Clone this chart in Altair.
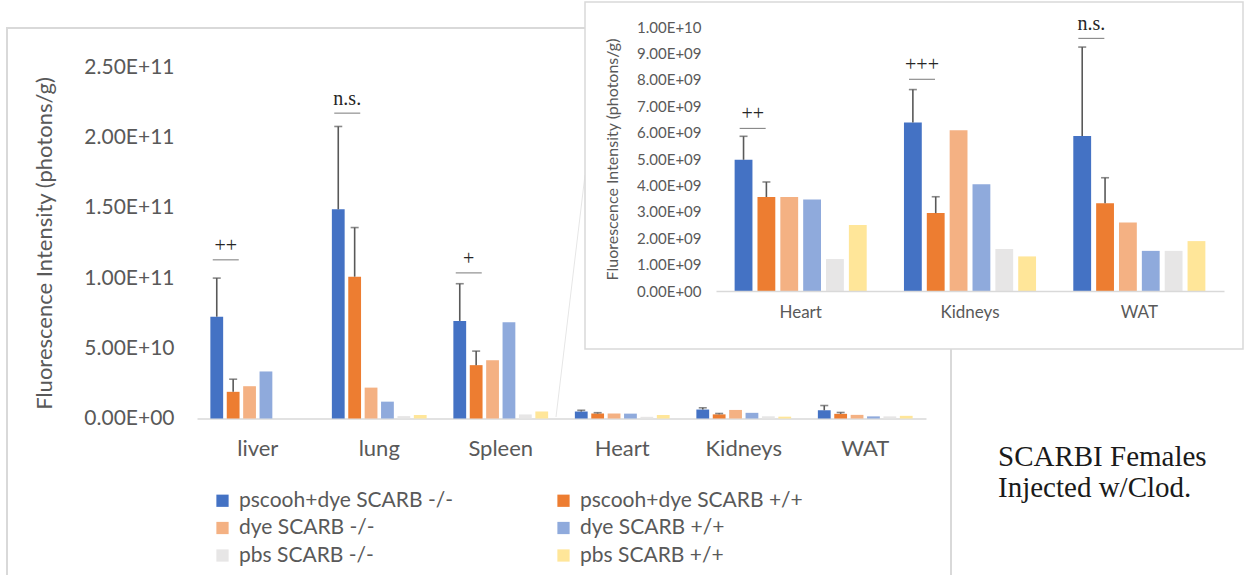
import altair as alt
import pandas as pd

# Organs on the main chart and the zoomed-in inset
organs = ["liver", "lung", "Spleen", "Heart", "Kidneys", "WAT"]
inset_organs = ["Heart", "Kidneys", "WAT"]

series = [
    "pscooh+dye SCARB -/-",
    "pscooh+dye SCARB +/+",
    "dye SCARB -/-",
    "dye SCARB +/+",
    "pbs SCARB -/-",
    "pbs SCARB +/+",
]
colors = ["#4472C4", "#ED7D31", "#F4B183", "#8FAADC", "#E7E6E6", "#FFE699"]

# Mean fluorescence intensity per organ (photons/g)
pscooh_ko = [7.25e10, 1.49e11, 6.95e10, 4.97e9, 6.38e9, 5.87e9]
pscooh_wt = [1.9e10, 1.01e11, 3.8e10, 3.56e9, 2.95e9, 3.32e9]
dye_ko = [2.3e10, 2.2e10, 4.15e10, 3.56e9, 6.09e9, 2.59e9]
dye_wt = [3.35e10, 1.2e10, 6.85e10, 3.47e9, 4.04e9, 1.52e9]
pbs_ko = [None, 1.7e9, 2.9e9, 1.21e9, 1.59e9, 1.52e9]
pbs_wt = [None, 2.5e9, 5.0e9, 2.5e9, 1.31e9, 1.89e9]

# Upper end of the error bars (pscooh+dye groups only)
pscooh_ko_upper = [1.0e11, 2.08e11, 9.6e10, 5.86e9, 7.63e9, 9.24e9]
pscooh_wt_upper = [2.8e10, 1.36e11, 4.8e10, 4.13e9, 3.57e9, 4.29e9]

# Significance marks: organ, label, height of the bracket line
sig_main_organs = ["liver", "lung", "Spleen"]
sig_main_labels = ["++", "n.s.", "+"]
sig_main_levels = [1.13e11, 2.175e11, 1.037e11]
sig_inset_organs = ["Heart", "Kidneys", "WAT"]
sig_inset_labels = ["++", "+++", "n.s."]
sig_inset_levels = [6.16e9, 8.02e9, 9.57e9]

# Axis ticks
main_ticks = [0, 5e10, 1e11, 1.5e11, 2e11, 2.5e11]
main_tick_labels = ["0.00E+00", "5.00E+10", "1.00E+11", "1.50E+11", "2.00E+11", "2.50E+11"]
inset_ticks = [0, 1e9, 2e9, 3e9, 4e9, 5e9, 6e9, 7e9, 8e9, 9e9, 1e10]
inset_tick_labels = ["0.00E+00", "1.00E+09", "2.00E+09", "3.00E+09", "4.00E+09", "5.00E+09",
                     "6.00E+09", "7.00E+09", "8.00E+09", "9.00E+09", "1.00E+10"]

values = [pscooh_ko, pscooh_wt, dye_ko, dye_wt, pbs_ko, pbs_wt]
uppers = [pscooh_ko_upper, pscooh_wt_upper, None, None, None, None]

rows = []
for s, vals, ups in zip(series, values, uppers):
    for i, organ in enumerate(organs):
        if vals[i] is None:
            continue
        rows.append({
            "organ": organ,
            "series": s,
            "value": vals[i],
            "upper": ups[i] if ups is not None else None,
        })
df = pd.DataFrame(rows)
df_inset = df[df["organ"].isin(inset_organs)]

sig_main = pd.DataFrame({"organ": sig_main_organs, "label": sig_main_labels, "level": sig_main_levels})
sig_inset = pd.DataFrame({"organ": sig_inset_organs, "label": sig_inset_labels, "level": sig_inset_levels})

GREY_TXT = "#595959"
AXIS_FONT = "Lato"
SERIF = "Liberation Serif"
H = 575


def label_expr(labels, step):
    arr = ",".join("'%s'" % t for t in labels)
    return "[%s][round(datum.value / %s)]" % (arr, repr(step))


color_enc = alt.Color(
    "series:N",
    scale=alt.Scale(domain=series, range=colors),
    legend=alt.Legend(
        orient="none", legendX=212, legendY=490, columns=2, direction="horizontal",
        title=None, symbolType="square", symbolSize=150, symbolStrokeWidth=0,
        labelFont=AXIS_FONT, labelFontSize=21, labelColor=GREY_TXT, labelLimit=0,
        columnPadding=99, rowPadding=5.5, labelOffset=6,
    ),
)


def panel(data, sig, domain, xrange, ymax, yrange, ticks, tick_labels, tick_step,
          fs_tick, fs_x, fs_title, x_pad, y_pad, title_x, cap, sig_shift, zindex):
    x_axis = alt.Axis(
        orient="bottom", offset=-(H - yrange[0]), title=None, labelAngle=0,
        labelFont=AXIS_FONT, labelFontSize=fs_x, labelColor=GREY_TXT, labelPadding=x_pad,
        domainColor="#D9D9D9", domainWidth=1.5, ticks=False, grid=False, zindex=zindex,
    )
    y_axis = alt.Axis(
        orient="left", offset=-xrange[0], values=ticks,
        labelExpr=label_expr(tick_labels, tick_step),
        labelFont=AXIS_FONT, labelFontSize=fs_tick, labelColor=GREY_TXT, labelPadding=y_pad,
        title="Fluorescence Intensity (photons/g)", titleFont=AXIS_FONT,
        titleFontSize=fs_title, titleFontWeight="normal", titleColor=GREY_TXT, titleX=title_x,
        domain=False, ticks=False, grid=False, zindex=zindex,
    )
    xs = alt.Scale(domain=domain, range=xrange, paddingInner=0.22, paddingOuter=0.11)
    ys = alt.Scale(domain=[0, ymax], range=yrange, nice=False)
    xo = alt.XOffset("series:N", scale=alt.Scale(domain=series, paddingInner=0.22))

    bars = alt.Chart(data).mark_bar().encode(
        x=alt.X("organ:N", scale=xs, axis=x_axis),
        xOffset=xo,
        y=alt.Y("value:Q", scale=ys, axis=y_axis),
        color=color_enc,
    )
    err_data = data[data["upper"].notna()]
    err = alt.Chart(err_data).mark_rule(color=GREY_TXT, strokeWidth=1.6).encode(
        x="organ:N", xOffset=xo, y="value:Q", y2="upper:Q",
    )
    caps = alt.Chart(err_data).mark_tick(color=GREY_TXT, thickness=1.6, size=cap).encode(
        x="organ:N", xOffset=xo, y="upper:Q",
    )
    sig_line = alt.Chart(sig).mark_tick(color="#404040", thickness=1, size=26, xOffset=sig_shift).encode(
        x="organ:N", y=alt.Y("level:Q"),
    )
    sig_text = alt.Chart(sig).mark_text(
        font=SERIF, fontSize=20, color="#262626", xOffset=sig_shift, dy=-8, baseline="alphabetic",
    ).encode(x="organ:N", y="level:Q", text="label:N")
    return alt.layer(bars, err, caps, sig_line, sig_text)


main = panel(df, sig_main, organs, [197, 926], 2.5e11, [418.5, 67.5], main_ticks, main_tick_labels,
             5e10, 21, 22, 22, 20, 23, -141, 8, -32, 0)
inset = panel(df_inset, sig_inset, inset_organs, [716, 1224], 1e10, [291, 27], inset_ticks,
              inset_tick_labels, 1e9, 15, 17, 16, 13, 15, -95.5, 8, -48, 1)

one = pd.DataFrame({"k": [0]})
main_frame = alt.Chart(one).mark_rect(fill="white", fillOpacity=0, stroke="#D9D9D9", strokeWidth=2).encode(
    x=alt.value(7), x2=alt.value(951), y=alt.value(28), y2=alt.value(620),
)
connector = alt.Chart(one).mark_rule(color="#E6E6E6", strokeWidth=1).encode(
    x=alt.value(585), x2=alt.value(556), y=alt.value(175), y2=alt.value(417),
)
inset_frame = alt.Chart(one).mark_rect(fill="white", stroke="#D9D9D9", strokeWidth=1.5).encode(
    x=alt.value(585), x2=alt.value(1243), y=alt.value(2), y2=alt.value(349),
)
caption = alt.Chart(one).mark_text(
    font=SERIF, fontSize=29, align="left", baseline="middle", lineBreak="\n",
    lineHeight=31, color="#1A1A1A",
).encode(x=alt.value(998), y=alt.value(457), text=alt.value("SCARBI Females\nInjected w/Clod."))

chart = (
    alt.layer(main_frame, connector, main, inset_frame, inset, caption)
    .resolve_scale(x="independent", y="independent", xOffset="independent")
    .properties(width=1244, height=H, padding=0, background="white",
                autosize=alt.AutoSizeParams(type="none"))
    .configure_view(stroke=None)
)

chart.save("out.html", embed_options={"renderer": "svg", "actions": False})
